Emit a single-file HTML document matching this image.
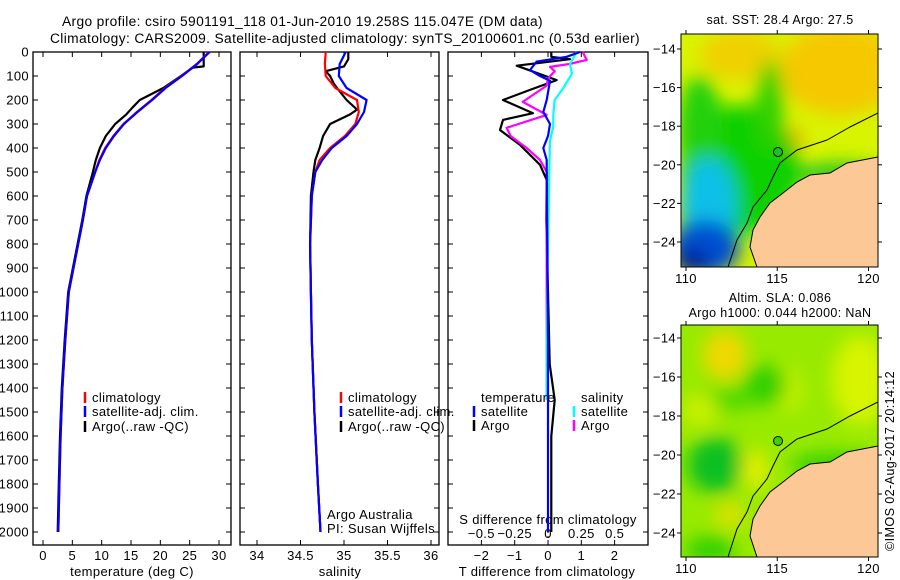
<!DOCTYPE html>
<html><head><meta charset="utf-8">
<style>
html,body{margin:0;padding:0;background:#fff;}
svg{display:block;font-family:"Liberation Sans",sans-serif;}
text{fill:#000;letter-spacing:0.35px;}
</style></head>
<body>
<svg id="c" width="900" height="580" viewBox="0 0 900 580" xmlns="http://www.w3.org/2000/svg">
<defs>
<filter id="bl" x="-50%" y="-50%" width="200%" height="200%"><feGaussianBlur stdDeviation="9"/></filter>
<clipPath id="m1c"><rect x="681" y="34" width="197" height="233"/></clipPath>
<clipPath id="m2c"><rect x="681" y="325" width="197" height="232"/></clipPath>
</defs>
<text x="62" y="26" font-size="13.5" textLength="481" lengthAdjust="spacingAndGlyphs">Argo profile: csiro 5901191_118 01-Jun-2010 19.258S 115.047E (DM data)</text>
<text x="50" y="43" font-size="13.5" textLength="590" lengthAdjust="spacingAndGlyphs">Climatology: CARS2009. Satellite-adjusted climatology: synTS_20100601.nc (0.53d earlier)</text>
<g id="p1"></g>
<g id="p2"></g>
<g id="p3"></g>

<g>
<text x="780" y="24" font-size="12.5" text-anchor="middle">sat. SST: 28.4 Argo: 27.5</text>
<g clip-path="url(#m1c)">
<rect x="681" y="34" width="197" height="233" fill="#d8f400"/>
<g filter="url(#bl)">
<ellipse cx="840" cy="70" rx="60" ry="45" fill="#f5c800"/>
<ellipse cx="740" cy="55" rx="40" ry="25" fill="#f0d000"/>
<ellipse cx="790" cy="140" rx="14" ry="12" fill="#f5a800"/>
<ellipse cx="740" cy="170" rx="60" ry="65" fill="#10d000"/>
<ellipse cx="700" cy="130" rx="22" ry="55" fill="#20d010"/>
<ellipse cx="770" cy="105" rx="14" ry="45" fill="#30d000"/>
<ellipse cx="708" cy="205" rx="28" ry="48" fill="#10c0e8"/>
<ellipse cx="705" cy="248" rx="35" ry="28" fill="#0050d0"/>
<ellipse cx="692" cy="262" rx="18" ry="12" fill="#001890"/>
<ellipse cx="840" cy="175" rx="45" ry="12" fill="#20c820"/>
</g>
<polygon points="878,157 847,163 830,173 810,175 797,182 783,193 770,203 760,217 753,230 750,247 757,267 878,267" fill="#fcc896" stroke="#000" stroke-width="1"/>
<polyline points="878,113 850,127 827,140 797,150 780,163 773,177 767,190 753,207 747,223 737,240 728,267" fill="none" stroke="#000" stroke-width="1"/>
</g>
<rect x="681" y="34" width="197" height="233" fill="none" stroke="#000" stroke-width="1"/>
<circle cx="778" cy="152" r="4.5" fill="#20c020" stroke="#000" stroke-width="1"/>
<g id="m1ax"></g>
</g>

<g>
<text x="780" y="302" font-size="12.5" text-anchor="middle">Altim. SLA: 0.086</text>
<text x="780" y="317" font-size="12.5" text-anchor="middle">Argo h1000: 0.044 h2000: NaN</text>
<g clip-path="url(#m2c)">
<rect x="681" y="325" width="197" height="232" fill="#98ea00"/>
<g filter="url(#bl)">
<ellipse cx="725" cy="355" rx="22" ry="25" fill="#f0d800"/>
<ellipse cx="860" cy="380" rx="28" ry="45" fill="#d8f400"/>
<ellipse cx="790" cy="390" rx="12" ry="22" fill="#c8f000"/>
<ellipse cx="765" cy="385" rx="22" ry="20" fill="#30d000"/>
<ellipse cx="720" cy="400" rx="35" ry="12" fill="#50d800"/>
<ellipse cx="715" cy="465" rx="28" ry="28" fill="#10c020"/>
<ellipse cx="755" cy="470" rx="12" ry="20" fill="#e8f000"/>
<ellipse cx="730" cy="515" rx="14" ry="12" fill="#e8e000"/>
<ellipse cx="710" cy="550" rx="25" ry="14" fill="#30d000"/>
<ellipse cx="835" cy="465" rx="45" ry="12" fill="#30d000"/>
<ellipse cx="700" cy="410" rx="18" ry="18" fill="#c8f000"/>
</g>
<polygon points="878,446 847,452 830,462 810,464 797,471 783,482 770,492 760,506 753,519 750,536 757,557 878,557" fill="#fcc896" stroke="#000" stroke-width="1"/>
<polyline points="878,402 850,416 827,429 797,439 780,452 773,466 767,479 753,496 747,512 737,529 728,557" fill="none" stroke="#000" stroke-width="1"/>
</g>
<rect x="681" y="325" width="197" height="232" fill="none" stroke="#000" stroke-width="1"/>
<circle cx="778" cy="441" r="4.5" fill="#40d000" stroke="#000" stroke-width="1"/>
<g id="m2ax"></g>
</g>
<text transform="translate(894,551) rotate(-90)" font-size="13" textLength="180" lengthAdjust="spacingAndGlyphs">©IMOS 02-Aug-2017 20:14:12</text>
</svg>
<script>
// ---- data ----
const tempDepths = [0,50,100,150,200,250,300,350,400,450,500,600,700,800,1000,1200,1400,1600,1800,2000];
const tempClim   = [28.3,26.2,23.6,20.8,18.5,16.0,13.7,12.0,10.6,9.6,8.9,7.5,6.8,6.0,4.4,3.8,3.3,3.0,2.8,2.6];
const tempSat    = [28.4,26.3,23.7,20.9,18.6,16.1,13.8,12.1,10.7,9.7,8.9,7.5,6.8,6.0,4.4,3.8,3.3,3.0,2.8,2.6];
const argoDepths = [0,60,65,100,150,200,230,260,300,350,400,450,500,600,700,800,1000,1200,1400,1600,1800,2000];
const tempArgo   = [27.4,27.4,25.5,23.5,20.5,16.5,15.3,14.2,12.3,10.7,9.7,9.0,8.5,7.4,6.7,5.9,4.3,3.7,3.2,2.9,2.7,2.5];

const salDepths = [0,50,100,150,200,250,300,350,400,450,500,600,800,1000,1200,1500,1800,2000];
const salClim   = [34.79,34.78,34.79,34.90,35.15,35.17,35.13,35.01,34.84,34.72,34.67,34.63,34.61,34.62,34.63,34.66,34.70,34.73];
const salSat    = [35.02,34.95,34.94,35.03,35.26,35.23,35.15,35.03,34.86,34.75,34.67,34.63,34.61,34.62,34.63,34.66,34.70,34.73];
const salArgoDepths = [0,30,60,80,100,130,150,200,240,260,300,350,400,450,500,600,800,1000,1200,1500,1800,2000];
const salArgo   = [35.05,35.05,35.0,34.79,34.84,34.88,34.92,35.03,35.15,35.07,34.84,34.76,34.72,34.67,34.65,34.62,34.61,34.62,34.63,34.66,34.70,34.73];

const dT_argo_depths = [0,20,30,57,117,158,200,255,283,325,387,470,533,700,1000,1300,1450,1600,2000];
const dT_argo = [0.1,0.1,0.66,-0.94,0.26,-0.54,-1.35,-0.45,-1.35,-1.44,-0.84,-0.24,-0.04,-0.05,0.0,0.05,0.2,0.1,0.1];
const dT_sat_depths = [0,20,40,75,100,120,200,250,300,350,400,450,500,800,1200,1600,2000];
const dT_sat = [0.96,0.56,-0.34,-0.54,-0.24,0.06,-0.04,-0.14,0.06,0.0,-0.14,-0.04,-0.04,-0.02,0.0,0.0,0.0];
const dS_argo_depths = [0,33,50,62,80,110,140,208,262,316,350,400,450,500,800,1200,1450];
const dS_argo = [0.26,0.29,0.16,0.015,0.05,0.0,-0.01,-0.19,-0.01,-0.31,-0.28,-0.16,-0.06,-0.01,-0.01,-0.01,-0.01];
const dS_sat_depths = [0,50,90,150,200,262,310,370,500,800,1200,1450];
const dS_sat = [0.215,0.165,0.18,0.115,0.05,0.04,0.04,0.015,0.01,0.0,-0.01,-0.01];

const depthTicks = [0,100,200,300,400,500,600,700,800,900,1000,1100,1200,1300,1400,1500,1600,1700,1800,1900,2000];
const tempTicks = [0,5,10,15,20,25,30];
const salTicks = [34,34.5,35,35.5,36];
const salTickLabels = ["34","34.5","35","35.5","36"];
const dTTicks = [-2,-1,0,1,2];
const dSTicks = [-0.5,-0.25,0,0.25,0.5];
const dSTickLabels = ["\u22120.5","\u22120.25","0","0.25","0.5"];
const lonTicks = [110,115,120];
const latTicks = [-14,-16,-18,-20,-22,-24];

// ---- scales ----
const Y0 = 52, YB = 545;
const yScale = d => Y0 + d*(532-52)/2000;
const xT = t => 43 + t*(219-43)/30;
const xS = s => 257 + (s-34)*(431-257)/2;
const xdT = t => 548 + t*33.3;
const xdS = s => 548 + s*133.4;
const xLon = l => 686 + (l-110)*18.25;
const yLat1 = la => 49 + (-14-la)*19.3;
const yLat2 = la => 338 + (-14-la)*19.5;

const NS = "http://www.w3.org/2000/svg";
function mk(parent, tag, attrs){ const e=document.createElementNS(NS,tag); for(const k in attrs) e.setAttribute(k,attrs[k]); parent.appendChild(e); return e; }
function txt(parent, x, y, s, anchor, size){ const t=mk(parent,'text',{x:x,y:y,'font-size':size||13,'text-anchor':anchor||'start'}); t.textContent=s; return t; }

function frame(g, x0, x1, name){
  const r = mk(g,'rect',{x:x0,y:Y0,width:x1-x0,height:YB-Y0,fill:'none',stroke:'#000','stroke-width':1.3});
  
  
  depthTicks.forEach(d=>{
    const y=yScale(d);
    mk(g,'line',{x1:x0,x2:x0+5,y1:y,y2:y,stroke:'#000'});
    mk(g,'line',{x1:x1-5,x2:x1,y1:y,y2:y,stroke:'#000'});
  });
}
function line(g, xs, ys, xf, color, name, w){
  const pts = xs.map((v,i)=>xf(v).toFixed(1)+','+yScale(ys[i]).toFixed(1)).join(' ');
  const p = mk(g,'polyline',{points:pts,fill:'none',stroke:color,'stroke-width':w||2.2,'stroke-linejoin':'round'});
  
  
}
function legend(g, x, y, color, label, name){
  mk(g,'line',{x1:x,x2:x,y1:y-10,y2:y+1,stroke:color,'stroke-width':2.5});
  const t = txt(g, x+7, y, label, 'start', 13);
  
  
}

// Panel 1
const p1 = document.getElementById('p1');
frame(p1, 33, 231, 'temperature-plot');
depthTicks.forEach(d=>{ const t=txt(p1, 29, yScale(d)+4.5, String(d), 'end', 13);
    });
tempTicks.forEach(v=>{ const x=xT(v);
  mk(p1,'line',{x1:x,x2:x,y1:YB,y2:YB-5,stroke:'#000'}); mk(p1,'line',{x1:x,x2:x,y1:Y0,y2:Y0+5,stroke:'#000'});
  const t=txt(p1, x, 560, String(v), 'middle', 13);   });
const at1 = txt(p1, 132, 576, 'temperature (deg C)', 'middle', 13);  
line(p1, tempArgo, argoDepths, xT, '#000', 'argo-temperature-line');
line(p1, tempClim, tempDepths, xT, '#f00', 'climatology-temperature-line');
line(p1, tempSat, tempDepths, xT, '#00f', 'satellite-temperature-line');
legend(p1, 85, 402, '#f00', 'climatology', 'legend-climatology');
legend(p1, 85, 416, '#00f', 'satellite-adj. clim.', 'legend-satellite');
legend(p1, 85, 431, '#000', 'Argo(..raw -QC)', 'legend-argo');

// Panel 2
const p2 = document.getElementById('p2');
frame(p2, 240, 439, 'salinity-plot');
salTicks.forEach((v,i)=>{ const x=xS(v);
  mk(p2,'line',{x1:x,x2:x,y1:YB,y2:YB-5,stroke:'#000'}); mk(p2,'line',{x1:x,x2:x,y1:Y0,y2:Y0+5,stroke:'#000'});
  const t=txt(p2, x, 560, salTickLabels[i], 'middle', 13);   });
const at2 = txt(p2, 340, 576, 'salinity', 'middle', 13);  
line(p2, salArgo, salArgoDepths, xS, '#000', 'argo-salinity-line');
line(p2, salClim, salDepths, xS, '#f00', 'climatology-salinity-line');
line(p2, salSat, salDepths, xS, '#00f', 'satellite-salinity-line');
legend(p2, 341, 402, '#f00', 'climatology', 'legend-climatology-2');
legend(p2, 341, 416, '#00f', 'satellite-adj. clim.', 'legend-satellite-2');
legend(p2, 341, 431, '#000', 'Argo(..raw -QC)', 'legend-argo-2');
const cr1 = txt(p2, 327, 519, 'Argo Australia', 'start', 13);  
const cr2 = txt(p2, 327, 533, 'PI: Susan Wijffels', 'start', 13);  

// Panel 3
const p3 = document.getElementById('p3');
frame(p3, 448, 648, 'difference-plot');
dTTicks.forEach(v=>{ const x=xdT(v);
  mk(p3,'line',{x1:x,x2:x,y1:YB,y2:YB-5,stroke:'#000'}); mk(p3,'line',{x1:x,x2:x,y1:Y0,y2:Y0+5,stroke:'#000'});
  const t=txt(p3, x, 560, v<0?'\u2212'+(-v):String(v), 'middle', 13);   });
dSTicks.forEach((v,i)=>{ const x=xdS(v);
  const t=txt(p3, x, 538, dSTickLabels[i], 'middle', 13);   });
const at3 = txt(p3, 548, 524, 'S difference from climatology', 'middle', 13);  
const at4 = txt(p3, 547, 576, 'T difference from climatology', 'middle', 13);  
mk(p3,'line',{x1:xdT(0),x2:xdT(0),y1:400,y2:YB,stroke:'#000','stroke-dasharray':'1,3'});
line(p3, dT_argo, dT_argo_depths, xdT, '#000', 'argo-t-diff-line');
line(p3, dS_argo, dS_argo_depths, xdS, '#f0f', 'argo-s-diff-line');
line(p3, dS_sat, dS_sat_depths, xdS, '#0ff', 'satellite-s-diff-line');
line(p3, dT_sat, dT_sat_depths, xdT, '#00f', 'satellite-t-diff-line');
const lt = txt(p3, 481, 402, 'temperature', 'start', 13);  
const ls = txt(p3, 581, 402, 'salinity', 'start', 13);  
legend(p3, 474, 416, '#00f', 'satellite', 'legend-t-satellite');
legend(p3, 474, 430, '#000', 'Argo', 'legend-t-argo');
legend(p3, 574, 416, '#0ff', 'satellite', 'legend-s-satellite');
legend(p3, 574, 430, '#f0f', 'Argo', 'legend-s-argo');

// Map axes
function mapAxes(id, yTop, yBot, yLat){
  const g=document.getElementById(id);
  lonTicks.forEach(l=>{ const x=xLon(l);
    mk(g,'line',{x1:x,x2:x,y1:yBot,y2:yBot+4,stroke:'#000'}); mk(g,'line',{x1:x,x2:x,y1:yTop,y2:yTop-4,stroke:'#000'});
    const t=txt(g,x,yBot+16,String(l),'middle',13);   });
  latTicks.forEach(la=>{ const y=yLat(la);
    mk(g,'line',{x1:878,x2:882,y1:y,y2:y,stroke:'#000'}); mk(g,'line',{x1:677,x2:681,y1:y,y2:y,stroke:'#000'});
    const t=txt(g,676,y+4.5,'\u2212'+(-la),'end',13);   });
}
mapAxes('m1ax', 34, 267, yLat1);
mapAxes('m2ax', 325, 557, yLat2);
</script>
</body></html>
